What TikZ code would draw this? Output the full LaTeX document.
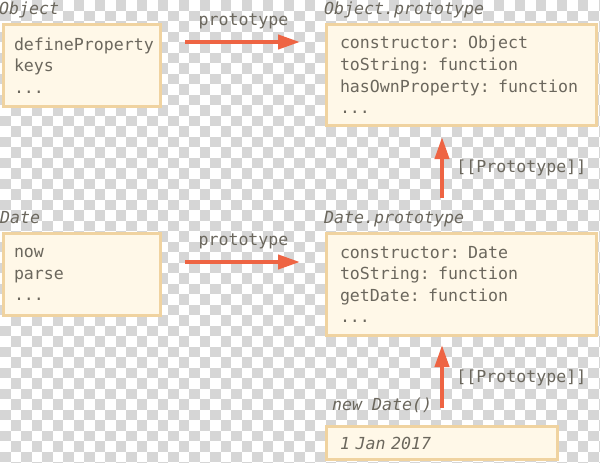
\documentclass[tikz,border=0pt]{standalone}
\usepackage{fontspec}
\setmonofont{DejaVu Sans Mono}[HyphenChar=None]
\usetikzlibrary{arrows.meta}
\definecolor{boxfill}{HTML}{FFF8E8}
\definecolor{boxline}{HTML}{F0D3A0}
\definecolor{arrowred}{HTML}{EE6443}
\definecolor{textgrey}{HTML}{6B675D}
\definecolor{checkgrey}{HTML}{D6D6D6}

\begin{document}
\begin{tikzpicture}[x=1pt, y=-1pt,
    every node/.style={font=\ttfamily\fontsize{16.6pt}{21.6pt}\selectfont, text=textgrey},
    objbox/.style={draw=boxline, fill=boxfill, line width=3pt, anchor=north west, align=left, inner ysep=0pt},
    title/.style={anchor=base west, inner sep=0pt, font=\ttfamily\itshape\fontsize{16.6pt}{21.6pt}\selectfont},
    protoarrow/.style={draw=arrowred, line width=4pt, -{Triangle[length=22pt, width=14pt]}}
]
                    \useasboundingbox (0,0) rectangle (600,463);
                    \clip (0,0) rectangle (600,463);
                    % checkerboard behind everything
                    \fill[white] (0,0) rectangle (600,463);
                    \foreach \i in {0,...,57}
                        \foreach \j in {0,...,44}{
                            \pgfmathtruncatemacro\odd{mod(\i+\j,2)}
                            \ifnum\odd=1 \fill[checkgrey] (\i*10.5,\j*10.5) rectangle ++(10.5,10.5); \fi
                        }
                    % the boxes
                    \node at (2,23) [objbox, inner xsep=10.5pt, text width=136pt, minimum height=82pt] (Object) {defineProperty\\keys\\...};
                    \node at (325,23) [objbox, inner xsep=13.5pt, text width=243pt, minimum height=101pt] (ObjectProto) {constructor: Object\\toString: function\\hasOwnProperty: function\\...};
                    \node at (2,232) [objbox, inner xsep=10.5pt, text width=136pt, minimum height=82pt] (Date) {now\\parse\\...};
                    \node at (325,232) [objbox, inner xsep=13.5pt, text width=243pt, minimum height=102pt] (DateProto) {constructor: Date\\toString: function\\getDate: function\\...};
                    \node at (325,425) [objbox, inner xsep=13.5pt, text width=204pt, minimum height=33pt, font=\ttfamily\itshape\fontsize{16.6pt}{21.6pt}\selectfont] (Jan) {1 Jan 2017};
                    % titles over the boxes
                    \node at (-1,14) [title] (ObjectTitle) {Object};
                    \node at (324,14) [title] (ObjectProtoTitle) {Object.prototype};
                    \node at (0,223) [title] (DateTitle) {Date};
                    \node at (324,223) [title] (DateProtoTitle) {Date.prototype};
                    \node at (332,410) [title] (NewDateTitle) {new Date()};
                    % prototype arrows between the boxes
                    \draw [protoarrow, shorten <=23pt, shorten >=25pt] ([yshift=-19pt]Object.north east) -- ([yshift=-19pt]ObjectProto.north west) node[midway, above=8pt] (ObjectLink) {prototype};
                    \draw [protoarrow, shorten <=23pt, shorten >=25pt] ([yshift=-30pt]Date.north east) -- ([yshift=-30pt]DateProto.north west) node[midway, above=8pt] (DateLink) {prototype};
                    \draw [protoarrow, shorten <=34pt, shorten >=10pt] ([xshift=-19.5pt]DateProto.north) -- ([xshift=-19.5pt]ObjectProto.south) node[pos=0.61, right=9pt] (DateProtoLink) {[[Prototype]]};
                    \draw [protoarrow, shorten <=17pt, shorten >=8pt] (Jan.north) -- (Jan.north |- DateProto.south) node[pos=0.53, right=9pt] (JanLink) {[[Prototype]]};
                \end{tikzpicture}
\end{document}
